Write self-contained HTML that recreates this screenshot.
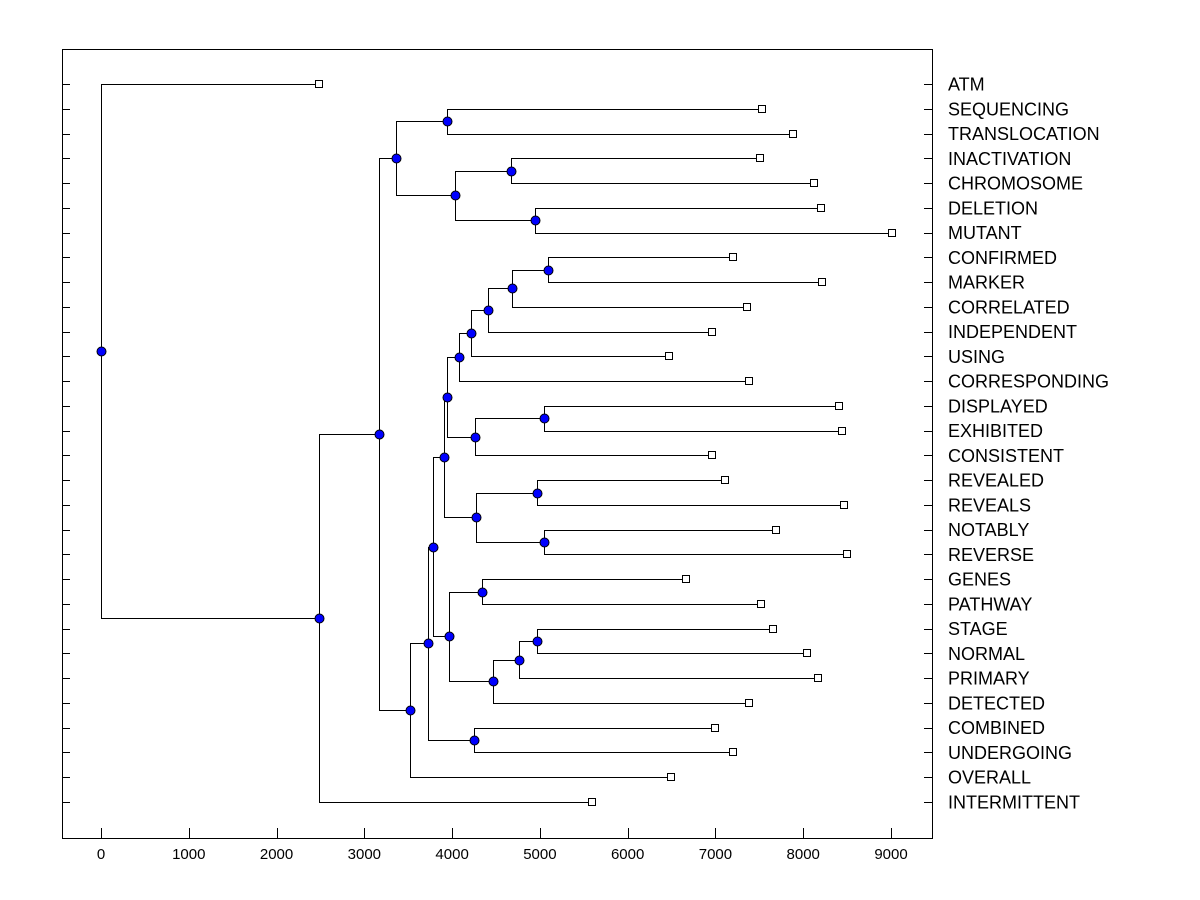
<!DOCTYPE html>
<html><head><meta charset="utf-8"><style>
html,body{margin:0;padding:0;background:#fff}
svg{display:block;font-family:"Liberation Sans",Arial,sans-serif}
</style></head><body>
<svg id="chart" width="1200" height="900"></svg>
<script>
const leafNames=["ATM","SEQUENCING","TRANSLOCATION","INACTIVATION","CHROMOSOME","DELETION","MUTANT","CONFIRMED","MARKER","CORRELATED","INDEPENDENT","USING","CORRESPONDING","DISPLAYED","EXHIBITED","CONSISTENT","REVEALED","REVEALS","NOTABLY","REVERSE","GENES","PATHWAY","STAGE","NORMAL","PRIMARY","DETECTED","COMBINED","UNDERGOING","OVERALL","INTERMITTENT"];
const leafValues=[2483,7530,7883,7507,8122,8202,9011,7200,8214,7359,6960,6471,7382,8407,8441,6960,7109,8464,7690,8498,6664,7519,7655,8043,8168,7382,6995,7200,6494,5594];
const mergeLeft=[1,3,5,31,30,7,35,36,37,38,13,40,39,16,18,43,42,20,22,48,49,47,46,26,52,54,34,56,0];
const mergeRight=[2,4,6,32,33,8,9,10,11,12,14,15,41,17,19,44,45,21,23,24,25,50,51,27,53,28,55,29,57];
const mergeHeight=[3942,4671,4944,4033,3361,5092,4682,4409,4215,4078,5047,4261,3942,4967,5047,4272,3907,4340,4967,4762,4466,3965,3782,4249,3725,3520,3167,2483,0];
const xTicks=[0,1000,2000,3000,4000,5000,6000,7000,8000,9000];

const NS="http://www.w3.org/2000/svg";
const svg=document.getElementById('chart');
const L=62,R=932,T=49,B=838;
const xs=v=>101+v*(790/9000);
const ys=i=>84+i*((802-84)/29);
function mk(tag,attrs,parent){const e=document.createElementNS(NS,tag);for(const k in attrs)e.setAttribute(k,attrs[k]);(parent||svg).appendChild(e);return e;}

const frame=mk('rect',{x:L+0.5,y:T+0.5,width:R-L,height:B-T,fill:'none',stroke:'#000'});



const gt=mk('g',{});


leafNames.forEach((n,i)=>{
  const y=Math.round(ys(i))+0.5;
  mk('line',{x1:L,x2:L+8,y1:y,y2:y,stroke:'#000'},gt);
  mk('line',{x1:R-8,x2:R,y1:y,y2:y,stroke:'#000'},gt);
  const t=mk('text',{x:948,y:ys(i)+6.5,'font-size':18,fill:'#000'});
  t.textContent=n;
  
  
});
xTicks.forEach(v=>{
  const x=Math.round(xs(v))+0.5;
  mk('line',{x1:x,x2:x,y1:B-10,y2:B,stroke:'#000'},gt);
  const t=mk('text',{x:xs(v),y:859,'font-size':15,'text-anchor':'middle',fill:'#000'});
  t.textContent=v;
  
  
});

const nx=[],ny=[];
leafValues.forEach((v,i)=>{nx[i]=xs(v);ny[i]=ys(i);});
const n0=leafNames.length;
mergeHeight.forEach((h,k)=>{
  const id=n0+k,a=mergeLeft[k],b=mergeRight[k];
  nx[id]=xs(h);ny[id]=(ny[a]+ny[b])/2;
});
const gl=mk('g',{stroke:'#000','stroke-width':1,fill:'none'});


mergeHeight.forEach((h,k)=>{
  const id=n0+k,a=mergeLeft[k],b=mergeRight[k];
  const x=Math.round(nx[id])+0.5;
  const ya=Math.round(ny[a])+0.5,yb=Math.round(ny[b])+0.5;
  mk('path',{d:`M${Math.round(nx[a])},${ya}H${x}V${yb}H${Math.round(nx[b])}`},gl);
});
leafValues.forEach((v,i)=>{
  const s=mk('rect',{x:Math.round(nx[i])-3.5,y:Math.round(ny[i])-3.5,width:7,height:7,fill:'#fff',stroke:'#000'});
  
  
});
mergeHeight.forEach((h,k)=>{
  const id=n0+k;
  const c=mk('circle',{cx:Math.round(nx[id])+0.5,cy:Math.round(ny[id])+0.5,r:4.5,fill:'#0000ff',stroke:'#000','stroke-width':1});
  
  
});
</script>
</body></html>
